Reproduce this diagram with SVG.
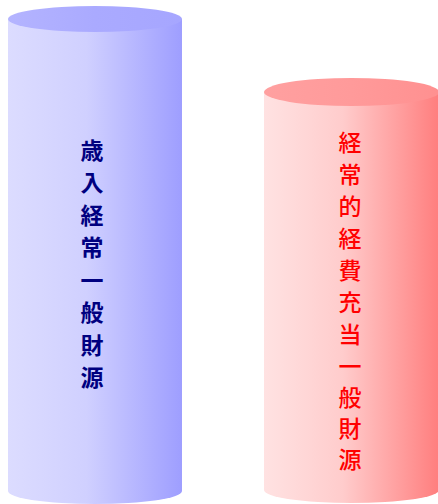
<svg xmlns="http://www.w3.org/2000/svg" width="438" height="504" viewBox="0 0 438 504">
<defs>
<linearGradient id="bside" x1="0" y1="0" x2="1" y2="0">
<stop offset="0" stop-color="#dcdcff"/><stop offset="0.45" stop-color="#d0d0ff"/><stop offset="1" stop-color="#9e9eff"/>
</linearGradient>
<linearGradient id="btop" x1="0" y1="0" x2="1" y2="0">
<stop offset="0" stop-color="#b4b4ff"/><stop offset="0.5" stop-color="#aaaaff"/><stop offset="1" stop-color="#a6a6ff"/>
</linearGradient>
<linearGradient id="rside" x1="0" y1="0" x2="1" y2="0">
<stop offset="0" stop-color="#ffe2e2"/><stop offset="0.45" stop-color="#ffcccc"/><stop offset="1" stop-color="#ff7e7e"/>
</linearGradient>
<linearGradient id="rtop" x1="0" y1="0" x2="1" y2="0">
<stop offset="0" stop-color="#ffa0a0"/><stop offset="0.5" stop-color="#ff9a9a"/><stop offset="1" stop-color="#ff9090"/>
</linearGradient>
<style>
.t{font-family:"Noto Sans CJK JP","Noto Sans CJK SC",sans-serif;font-size:23px;text-anchor:middle}
.b{fill:#000080;font-weight:bold}
.r{fill:#ff0000;font-weight:500}
</style>
</defs>
<g id="left-cylinder">
<path d="M8,19 L8,491 A87,13 0 0 0 182,491 L182,19 Z" fill="url(#bside)"/>
<ellipse cx="95" cy="19" rx="87" ry="13" fill="url(#btop)"/>
<text class="t b"><tspan x="92" y="159">歳</tspan><tspan x="92" y="191">入</tspan><tspan x="92" y="224">経</tspan><tspan x="92" y="256">常</tspan><tspan x="92" y="289">一</tspan><tspan x="92" y="321">般</tspan><tspan x="92" y="354">財</tspan><tspan x="92" y="386">源</tspan></text>
</g>
<g id="right-cylinder">
<path d="M264,92 L264,490 A87.5,13 0 0 0 439,490 L439,92 Z" fill="url(#rside)"/>
<ellipse cx="351.5" cy="92" rx="87.5" ry="14" fill="url(#rtop)"/>
<text class="t r"><tspan x="350" y="151">経</tspan><tspan x="350" y="183">常</tspan><tspan x="350" y="215">的</tspan><tspan x="350" y="247">経</tspan><tspan x="350" y="279">費</tspan><tspan x="350" y="311">充</tspan><tspan x="350" y="343">当</tspan><tspan x="350" y="375">一</tspan><tspan x="350" y="406">般</tspan><tspan x="350" y="437">財</tspan><tspan x="350" y="468">源</tspan></text>
</g>
<g id="connectors"/>
</svg>
